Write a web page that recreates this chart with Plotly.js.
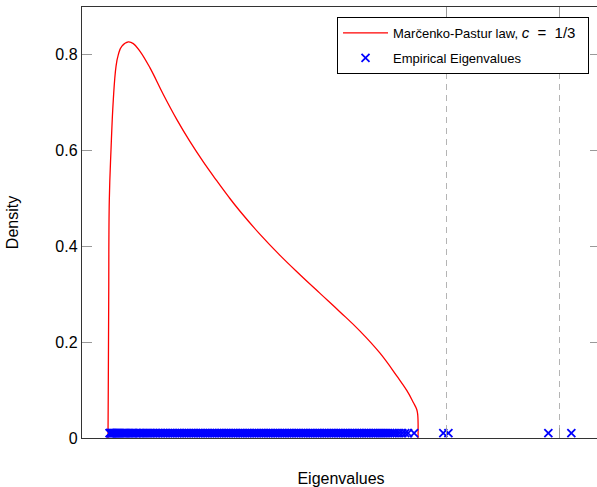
<!DOCTYPE html>
<html><head><meta charset="utf-8">
<script src="https://cdn.plot.ly/plotly-3.0.1.min.js"></script>
<style>html,body{margin:0;padding:0;overflow:hidden;background:#fff}#chart{width:600px;height:487px}</style>
</head><body><div id="chart"></div>
<script>
// Marčenko-Pastur density curve
const curveX = [0.1784,0.1799,0.1836,0.1881,0.2007,0.2178,0.2379,0.2550,0.2803,0.3294,0.3665,0.4164,0.4907,0.5896,0.6892,0.7881,0.8870,0.9866,1.0743,1.1599,1.3086,1.4572,1.6059,1.7546,1.9033,2.0520,2.2007,2.3249,2.3993,2.4483,2.4736,2.4810,2.4833];
const curveY = [0,0.0794,0.2885,0.4975,0.6020,0.7065,0.7761,0.8006,0.8179,0.8271,0.8236,0.8075,0.7728,0.7172,0.6653,0.6187,0.5765,0.5372,0.5039,0.4735,0.4252,0.3814,0.3410,0.3020,0.2633,0.2232,0.1771,0.1296,0.0993,0.0742,0.0596,0.0481,0];
// Empirical eigenvalues (bulk) and outliers
const eigBulk = [0.190,0.194,0.198,0.203,0.208,0.213,0.219,0.225,0.231,0.237,0.244,0.251,0.258,0.265,0.272,0.280,0.288,0.296,0.304,0.312,0.321,0.330,0.339,0.348,0.357,0.366,0.376,0.386,0.396,0.406,0.416,0.426,0.437,0.448,0.459,0.470,0.481,0.492,0.503,0.515,0.527,0.539,0.551,0.563,0.575,0.587,0.599,0.612,0.625,0.638,0.651,0.664,0.677,0.690,0.703,0.716,0.729,0.742,0.755,0.768,0.781,0.794,0.807,0.820,0.833,0.846,0.859,0.872,0.885,0.898,0.911,0.924,0.937,0.950,0.963,0.976,0.989,1.002,1.015,1.028,1.041,1.054,1.067,1.080,1.093,1.106,1.119,1.132,1.145,1.158,1.171,1.184,1.197,1.210,1.223,1.236,1.249,1.262,1.275,1.288,1.301,1.314,1.327,1.340,1.353,1.366,1.379,1.392,1.405,1.418,1.431,1.444,1.457,1.470,1.483,1.496,1.509,1.522,1.535,1.548,1.561,1.574,1.587,1.600,1.613,1.626,1.639,1.652,1.665,1.678,1.691,1.704,1.717,1.730,1.743,1.756,1.769,1.782,1.795,1.808,1.821,1.834,1.847,1.860,1.873,1.886,1.899,1.912,1.925,1.938,1.951,1.964,1.977,1.990,2.003,2.016,2.029,2.042,2.055,2.068,2.081,2.094,2.107,2.120,2.133,2.146,2.159,2.172,2.186,2.200,2.214,2.229,2.244,2.259,2.275,2.291,2.308,2.326,2.345,2.366,2.388,2.409,2.454];
const eigOutliers = [2.671,2.709,3.452,3.623];
const markerLevel = 0.01;
const spikeLines = [2.694,3.535];
const yTickVals = [0,0.2,0.4,0.6,0.8];
const yTickText = ['0','0.2','0.4','0.6','0.8'];

const eigX = eigBulk.concat(eigOutliers);
const eigY = eigX.map(() => markerLevel);
const FONT = 'Liberation Sans, Arial, Helvetica, sans-serif';
const S = '\u00a0';
const mpName = 'Marčenko-Pastur law, <span style="font-size:15px"><i>c</i>' + S+S + '=' + S+S + '1/3</span>' + S+S;

const traces = [
  {x: curveX, y: curveY, type: 'scatter', mode: 'lines',
   line: {color: '#ff0000', width: 1.3, shape: 'spline', smoothing: 1.2},
   name: mpName, legendgroup: 'a'},
  {x: eigX, y: eigY, type: 'scatter', mode: 'markers',
   marker: {symbol: 'x-thin', size: 8, color: '#0000ff', line: {color: '#0000ff', width: 1.8}},
   name: 'Empirical Eigenvalues', legendgroup: 'b'}
];

const layout = {
  width: 600, height: 487,
  margin: {l: 82, r: 0, t: 7, b: 49, pad: 0},
  paper_bgcolor: '#fff', plot_bgcolor: '#fff',
  font: {family: FONT, color: '#000'},
  showlegend: true,
  legend: {x: 0.9788, y: 0.9768, xanchor: 'right', yanchor: 'top',
    bordercolor: '#000', borderwidth: 1, bgcolor: '#fff', traceorder: 'grouped', tracegroupgap: 5,
    font: {family: FONT, size: 13, color: '#000'}, itemwidth: 45},
  xaxis: {range: [-0.015, 3.836], showline: true, linecolor: '#333', linewidth: 1.2, mirror: 'ticks',
    zeroline: false, showgrid: true, gridcolor: '#b4b4b4', griddash: '6px,5px', gridwidth: 1,
    tickmode: 'array', tickvals: spikeLines, showticklabels: false,
    ticks: 'inside', ticklen: 10, tickcolor: '#999', tickwidth: 1.2, automargin: false,
    title: {text: 'Eigenvalues', font: {size: 16, family: FONT}, standoff: 35}},
  yaxis: {range: [0, 0.9], showline: true, linecolor: '#333', linewidth: 1.2, mirror: 'ticks',
    zeroline: false, showgrid: false, automargin: false,
    tickmode: 'array', tickvals: yTickVals, ticktext: yTickText,
    ticks: 'inside', ticklen: 10, tickcolor: '#999', tickwidth: 1.2,
    tickfont: {size: 16, family: FONT},
    title: {text: 'Density', font: {size: 16, family: FONT}, standoff: 32}}
};

Plotly.newPlot('chart', traces, layout, {displayModeBar: false, staticPlot: true});
</script>
</body></html>
